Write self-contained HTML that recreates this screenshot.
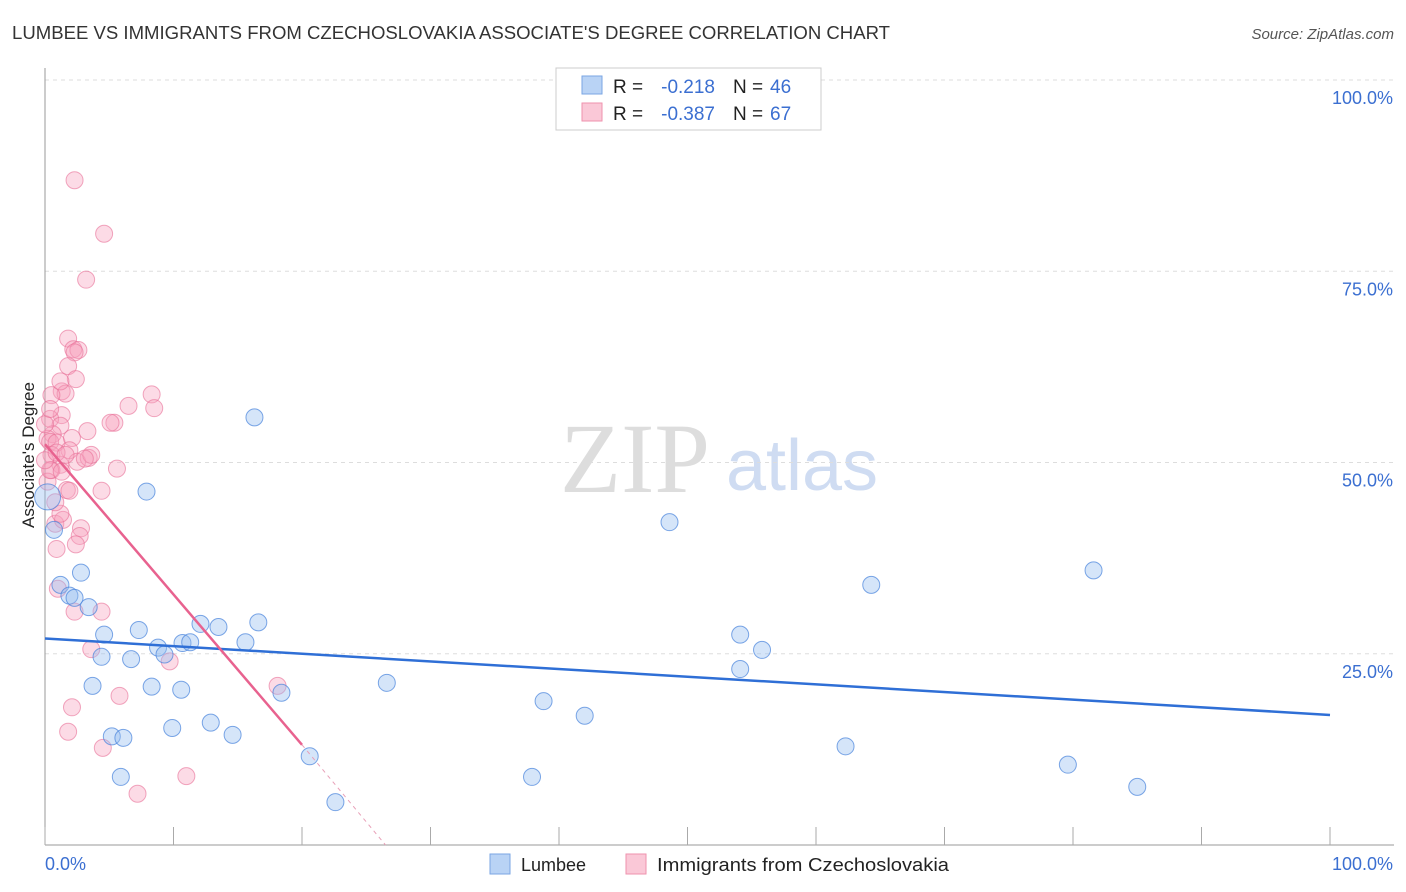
<!DOCTYPE html>
<html><head><meta charset="utf-8"><style>
body{margin:0;background:#fff;font-family:"Liberation Sans",sans-serif}
svg{display:block}
</style></head><body>
<svg id="c" width="1406" height="892">
<text x="12" y="39" font-size="18" fill="#333" textLength="878" lengthAdjust="spacingAndGlyphs">LUMBEE VS IMMIGRANTS FROM CZECHOSLOVAKIA ASSOCIATE'S DEGREE CORRELATION CHART</text>
<text x="1394" y="39" font-size="15" fill="#555" font-style="italic" text-anchor="end">Source: ZipAtlas.com</text>
<text x="34" y="455" font-size="17" fill="#222" text-anchor="middle" transform="rotate(-90 34 455)">Associate's Degree</text>
<text x="635" y="492" font-size="100" fill="#ddd" font-family="Liberation Serif,serif" text-anchor="middle">ZIP</text>
<text x="802" y="490" font-size="72" fill="#cfdcf2" text-anchor="middle">atlas</text>
<g id="grid"></g><g id="pts"></g><g id="lines"></g>
<g>
<rect x="556" y="68" width="265" height="62" fill="#fff" stroke="#ccc"/>
<rect x="582" y="76" width="20" height="18" fill="#b9d3f5" stroke="#7aa6e3"/>
<rect x="582" y="103" width="20" height="18" fill="#fac8d7" stroke="#ef92ae"/>
<text x="613" y="93" font-size="19" fill="#222">R =</text>
<text x="715" y="93" font-size="19" fill="#3b6fd1" text-anchor="end">-0.218</text>
<text x="733" y="93" font-size="19" fill="#222">N =</text>
<text x="770" y="93" font-size="19" fill="#3b6fd1">46</text>
<text x="613" y="120" font-size="19" fill="#222">R =</text>
<text x="715" y="120" font-size="19" fill="#3b6fd1" text-anchor="end">-0.387</text>
<text x="733" y="120" font-size="19" fill="#222">N =</text>
<text x="770" y="120" font-size="19" fill="#3b6fd1">67</text>
</g>
<g>
<rect x="490" y="854" width="20" height="20" fill="#b9d3f5" stroke="#7aa6e3"/>
<text x="521" y="871" font-size="18" fill="#222">Lumbee</text>
<rect x="626" y="854" width="20" height="20" fill="#fac8d7" stroke="#ef92ae"/>
<text x="657" y="871" font-size="18" fill="#222" textLength="292" lengthAdjust="spacingAndGlyphs">Immigrants from Czechoslovakia</text>
</g>
</svg>
<script>
const yTicks=[0,25,50,75,100];
const yTickLabels=["","25.0%","50.0%","75.0%","100.0%"];
const blueX=[0.7,2.8,1.2,1.9,2.3,3.4,4.6,4.4,3.7,7.3,6.7,8.8,9.3,8.3,10.6,9.9,5.2,6.1,5.9,7.9,12.1,13.5,10.7,11.3,15.6,16.6,12.9,14.6,18.4,20.6,22.6,16.3,26.6,38.8,42.0,37.9,48.6,54.1,55.8,54.1,62.3,64.3,79.6,81.6,85.0,0.2];
const blueY=[41.2,35.6,34.0,32.6,32.3,31.1,27.5,24.6,20.8,28.1,24.3,25.8,24.9,20.7,20.3,15.3,14.2,14.0,8.9,46.2,28.9,28.5,26.4,26.5,26.5,29.1,16.0,14.4,19.9,11.6,5.6,55.9,21.2,18.8,16.9,8.9,42.2,27.5,25.5,23.0,12.9,34.0,10.5,35.9,7.6,45.5];
const pinkX=[2.3,4.6,3.2,1.8,2.2,2.6,2.3,1.8,2.4,1.3,1.6,0.5,1.3,0.4,1.2,0.6,0.2,0.4,0.9,2.1,3.3,5.4,6.5,8.3,8.5,0.5,1.9,2.5,3.4,3.6,1.2,0.5,5.6,1.7,1.9,4.4,0.8,1.4,1.2,2.8,2.7,2.4,0.9,1.0,4.4,2.3,3.6,9.7,5.8,2.1,1.8,4.5,7.2,11.0,18.1,0.2,0.4,0.0,0.8,1.3,0.9,0.0,0.4,1.6,3.1,5.1,1.2];
const pinkY=[86.9,79.9,73.9,66.2,64.8,64.7,64.4,62.6,60.9,59.3,59.0,58.8,56.2,55.7,54.8,53.7,53.1,52.7,52.6,53.2,54.1,55.2,57.4,58.9,57.1,51.0,51.6,50.1,50.6,51.0,49.7,49.0,49.2,46.4,46.3,46.3,42.0,42.5,43.3,41.4,40.4,39.3,38.7,33.5,30.5,30.5,25.6,24.0,19.5,18.0,14.8,12.7,6.7,9.0,20.8,47.5,49.0,50.3,44.8,48.8,51.3,55.0,57.0,51.0,50.5,55.2,60.6];
const blueTrend=[[0,27.0],[100,17.0]];
const pinkTrend=[[0,52.4],[20,13.1]];
const pinkDash=[[20,13.1],[26.5,0]];
const X0=45,X1=1330,Y0=845,Y1=80;
const sx=v=>X0+(X1-X0)*v/100, sy=v=>Y0-(Y0-Y1)*v/100;
const NS="http://www.w3.org/2000/svg";
function mk(t,a,p){const e=document.createElementNS(NS,t);for(const k in a)e.setAttribute(k,a[k]);p.appendChild(e);return e;}
const g=document.getElementById('grid');
yTicks.forEach((t,i)=>{
  if(t>0){const l=mk('line',{x1:X0,x2:1394,y1:sy(t),y2:sy(t),stroke:'#ddd','stroke-dasharray':'4,4'},g);
  
  
  const tx=mk('text',{x:1393,y:sy(t)+24,'font-size':18,fill:'#3b6fd1','text-anchor':'end'},g);tx.textContent=yTickLabels[i];
  
  }
});
const ax=mk('line',{x1:X0,x2:X0,y1:68,y2:Y0,stroke:'#999'},g);


const bx=mk('line',{x1:X0,x2:1394,y1:Y0,y2:Y0,stroke:'#999'},g);


for(let i=0;i<=10;i++){const t=mk('line',{x1:sx(i*10),x2:sx(i*10),y1:Y0,y2:Y0-18,stroke:'#aaa'},g);

}
[["0.0%",X0,'start'],["100.0%",1393,'end']].forEach(([s,x,a])=>{const t=mk('text',{x:x,y:870,'font-size':18,fill:'#3b6fd1','text-anchor':a},g);t.textContent=s;

});
const P=document.getElementById('pts');
pinkX.forEach((x,i)=>{const c=mk('circle',{cx:sx(x),cy:sy(pinkY[i]),r:8.5,fill:'rgba(246,160,188,0.38)',stroke:'rgba(232,110,150,0.6)','stroke-width':1},P);

});
blueX.forEach((x,i)=>{const c=mk('circle',{cx:sx(x),cy:sy(blueY[i]),r:i==blueX.length-1?13:8.5,fill:'rgba(150,190,240,0.4)',stroke:'rgba(70,130,220,0.7)','stroke-width':1},P);

});
const L=document.getElementById('lines');
const b=mk('line',{x1:sx(blueTrend[0][0]),y1:sy(blueTrend[0][1]),x2:sx(blueTrend[1][0]),y2:sy(blueTrend[1][1]),stroke:'#2f6fd6','stroke-width':2.5},L);


const p=mk('line',{x1:sx(pinkTrend[0][0]),y1:sy(pinkTrend[0][1]),x2:sx(pinkTrend[1][0]),y2:sy(pinkTrend[1][1]),stroke:'#e8628f','stroke-width':2.5},L);


const d=mk('line',{x1:sx(pinkDash[0][0]),y1:sy(pinkDash[0][1]),x2:sx(pinkDash[1][0]),y2:sy(pinkDash[1][1]),stroke:'#e8a0b8','stroke-width':1,'stroke-dasharray':'4,4'},L);


</script>
</body></html>
